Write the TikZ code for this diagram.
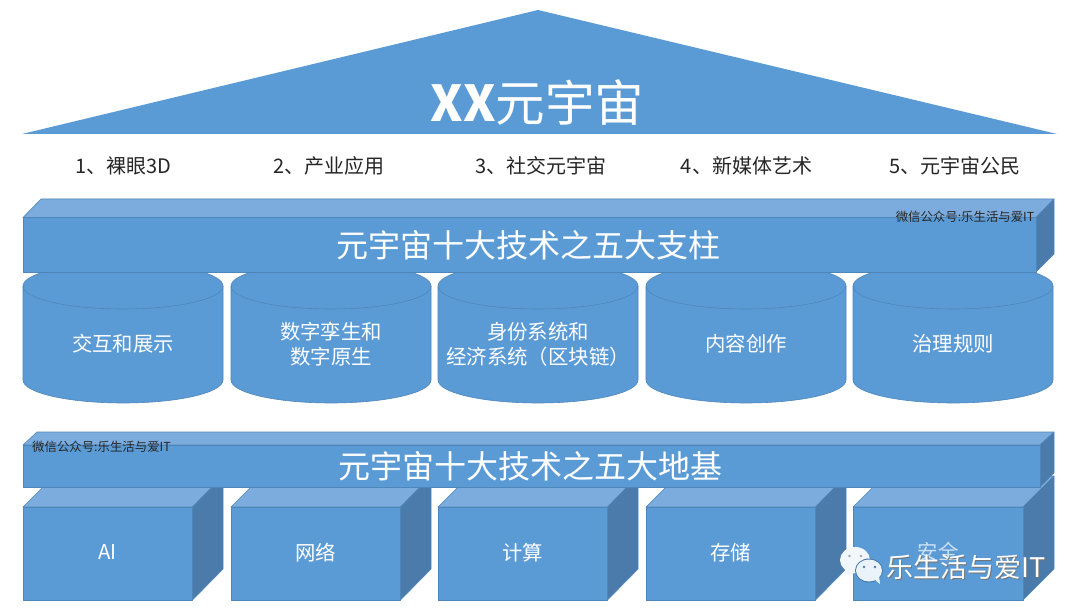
\documentclass[tikz,border=0pt]{standalone}
\usepackage{fontspec}
\setmainfont{Noto Sans CJK SC}
\definecolor{blockblue}{HTML}{5B9BD5}
\definecolor{blocktop}{HTML}{7CACDD}
\definecolor{blockside}{HTML}{4A7BAB}
\definecolor{blockedge}{HTML}{4F86BA}
\tikzset{
  face/.style={fill=blockblue,draw=blockedge,line width=0.6pt,line join=round},
  topface/.style={face,fill=blocktop},
  sideface/.style={face,fill=blockside},
  whitelabel/.style={text=white,font=\fontsize{20.4}{25}\selectfont,align=center,inner sep=0pt},
  titlelabel/.style={text=white,font=\fontsize{32}{32}\selectfont,inner sep=0pt},
  pillarlabel/.style={text=black!85,font=\fontsize{20}{20}\selectfont,inner sep=0pt},
  marklabel/.style={text=black!85,font=\fontsize{12.4}{12.4}\selectfont,inner sep=0pt},
}
\begin{document}
\begin{tikzpicture}[x=1pt,y=-1pt,line join=round]
\useasboundingbox (0,0) rectangle (1080,615);
\fill[white] (0,0) rectangle (1080,615);
% lower row of boxes
\foreach \x/\l/\n in {23/AI/ai,231/网络/net,438/计算/calc,646/存储/store}{
  \draw[topface] (\x,507) -- (\x+31,476) -- (\x+200,476) -- (\x+169.5,507) -- cycle;
  \draw[sideface] (\x+169.5,507) -- (\x+200,476) -- (\x+200,569) -- (\x+169.5,600) -- cycle;
  \draw[face] (\x,507) rectangle (\x+169.5,600);
  \node[whitelabel] (box\n) at (\x+84.5,552.5) {\l};
}
\draw[topface] (853,507) -- (884,476) -- (1054,476) -- (1023,507) -- cycle;
\draw[sideface] (1023,507) -- (1054,476) -- (1054,569) -- (1023,600) -- cycle;
\draw[face] (853,507) rectangle (1023,600);
\node[whitelabel,text=white!70!blockblue] (boxsafe) at (938,552) {安全};
% middle row of cylinders
\foreach \x/\l/\n in {23/交互和展示/a,231/数字孪生和\\数字原生/b,438/身份系统和\\经济系统（区块链）/c,646/内容创作/d,853/治理规则/e}{
  \draw[face] (\x,286) -- (\x,380) arc[start angle=180,end angle=360,x radius=100pt,y radius=23pt]
    -- (\x+200,286) arc[start angle=0,end angle=180,x radius=100pt,y radius=23pt] -- cycle;
  \draw[face,fill=none] (\x,286) arc[start angle=180,end angle=360,x radius=100pt,y radius=23pt];
  \node[whitelabel] (cyl\n) at (\x+100,344) {\l};
}
% the two long bars
\draw[topface] (23,217.5) -- (41,199) -- (1054,199) -- (1036,217.5) -- cycle;
\draw[sideface] (1036,217.5) -- (1054,199) -- (1054,254) -- (1036,272) -- cycle;
\draw[face] (23,217.5) rectangle (1036,272);
\node[titlelabel] (pillars) at (528,245) {元宇宙十大技术之五大支柱};
\draw[topface] (23,445) -- (37,432) -- (1054,432) -- (1040,445) -- cycle;
\draw[sideface] (1040,445) -- (1054,432) -- (1054,473) -- (1040,487) -- cycle;
\draw[face] (23,445) rectangle (1040,487);
\node[titlelabel] (ground) at (530.5,466) {元宇宙十大技术之五大地基};
% roof and the five items under it
\fill[blockblue] (22,134) -- (538,10) -- (1057,134) -- cycle;
\node[text=white,font=\fontsize{49.5}{49.5}\selectfont,inner sep=0pt] (roof) at (537.5,102) {{\bfseries XX}元宇宙};
\foreach \x/\l/\n in {123.5/1、裸眼3D/a,329/2、产业应用/b,541/3、社交元宇宙/c,746.5/4、新媒体艺术/d,955/5、元宇宙公民/e}{
  \node[pillarlabel] (item\n) at (\x,166) {\l};
}
\node[marklabel] (markup) at (965,217) {微信公众号:乐生活与爱IT};
\node[marklabel] (marklow) at (101.5,447) {微信公众号:乐生活与爱IT};
% chat bubbles and name
\fill[white!92!blockblue] (855,560) ellipse[x radius=15pt,y radius=13pt];
\fill[white!92!blockblue] (846,570) -- (844,576) -- (855,573) -- cycle;
\fill[gray!70] (849.5,556) circle(1.4pt) (861,556) circle(1.4pt);
\fill[blockside] (869,570.5) ellipse[x radius=14pt,y radius=12pt];
\fill[white!88!blockblue] (869,570.5) ellipse[x radius=13pt,y radius=11pt];
\fill[white!88!blockblue] (874,579) -- (880,584) -- (879,576) -- cycle;
\fill[blockside] (864,567) circle(1.4pt) (875,567) circle(1.4pt);
\node[text=black!55,font=\fontsize{27}{27}\selectfont,inner sep=0pt] (nameshade) at (966.8,568) {乐生活与爱IT};
\node[text=white,font=\fontsize{27}{27}\selectfont,inner sep=0pt] (name) at (966,567) {乐生活与爱IT};
\end{tikzpicture}
\end{document}
